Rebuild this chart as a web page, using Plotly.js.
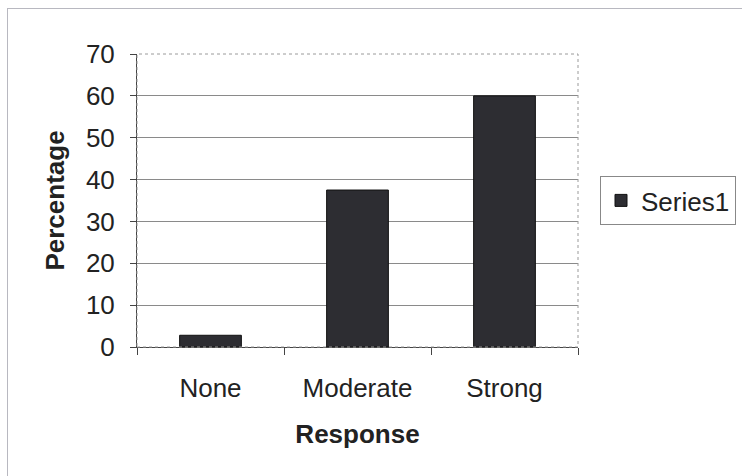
<!DOCTYPE html>
<html><head><meta charset="utf-8">
<script src="https://cdn.plot.ly/plotly-3.0.1.min.js"></script>
<style>
html,body{margin:0;padding:0;background:#fff;}
#frame{position:absolute;left:7px;top:8px;width:760px;height:480px;border:1px solid #b8b8c0;box-sizing:border-box;}
#chart{position:absolute;left:0;top:0;width:742px;height:476px;}
</style></head>
<body>
<div id="frame"></div>
<div id="chart"></div>
<script>
const categories = ["None", "Moderate", "Strong"];
const series1 = [2.8, 37.5, 60];
const seriesName = "Series1";
const yTicks = [0, 10, 20, 30, 40, 50, 60, 70];

const font = "Liberation Sans, Arial, sans-serif";
const fs = 26;
const trace = {
  type: "bar", x: categories, y: series1, name: seriesName,
  marker: {color: "#2d2d32", line: {color: "#111", width: 1}},
  showlegend: true
};
const layout = {
  width: 742, height: 476,
  paper_bgcolor: "rgba(0,0,0,0)", plot_bgcolor: "rgba(0,0,0,0)",
  margin: {l: 137, r: 0, t: 54, b: 129},
  bargap: 0.58,
  font: {family: font, color: "#222", size: fs},
  xaxis: {
    type: "category", tickson: "boundaries", domain: [0, 441/605],
    ticks: "outside", ticklen: 7, tickcolor: "#444", tickwidth: 1,
    showline: true, linecolor: "#444", linewidth: 1,
    showgrid: false, ticklabelstandoff: 18,
    tickfont: {size: fs, family: font, color: "#222"},
    title: {text: "<b>Response</b>", font: {size: fs, family: font, color: "#222"}, standoff: 22}
  },
  yaxis: {
    range: [0, 70], tickvals: yTicks, ticks: "outside", ticklen: 6, tickcolor: "#444",
    showline: true, linecolor: "#444", linewidth: 1,
    showgrid: true, gridcolor: "#8a8a8a", gridwidth: 1, zeroline: false,
    ticklabelstandoff: 10,
    tickfont: {size: fs, family: font, color: "#222"},
    title: {text: "<b>Percentage</b>", font: {size: fs, family: font, color: "#222"}, standoff: 13}
  },
  legend: {
    x: (600-137)/605, y: 0.5, xanchor: "left", yanchor: "middle",
    bordercolor: "#888", borderwidth: 1, bgcolor: "#fff",
    font: {size: fs, family: font, color: "#222"},
    itemwidth: 30
  },
  shapes: [{
    type: "rect", xref: "x domain", yref: "y domain", x0: 0, x1: 1, y0: 0, y1: 1,
    line: {color: "#9a9a9a", width: 1, dash: "dot"}, layer: "above"
  }]
};
Plotly.newPlot("chart", [trace], layout, {displayModeBar: false, staticPlot: true});
</script>
</body></html>
